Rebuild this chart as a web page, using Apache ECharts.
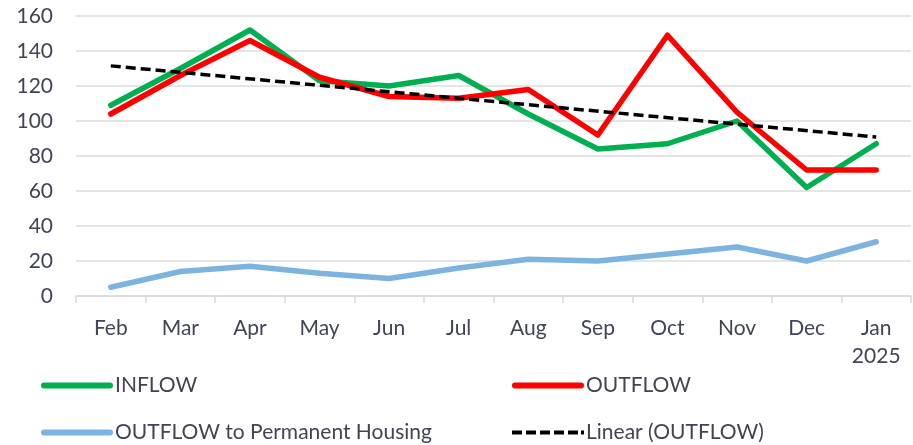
<!DOCTYPE html>
<html><head><meta charset="utf-8">
<script src="https://cdn.jsdelivr.net/npm/echarts@6/dist/echarts.min.js"></script>
<style>html,body{margin:0;padding:0;background:#fff}#c{width:913px;height:445px}</style>
</head><body><div id="c"></div>
<script>
const categories = ['Feb','Mar','Apr','May','Jun','Jul','Aug','Sep','Oct','Nov','Dec','Jan\n2025'];
const inflow = [109,130,152,123,120,126,104,84,87,100,62,87];
const outflow = [104,126,146,125,114,113,118,92,149,105,72,72];
const permanent = [5,14,17,13,10,16,21,20,24,28,20,31];
const linearOutflow = [131.5,null,null,null,null,null,null,null,null,null,null,90.8];
const yTicks = [0,20,40,60,80,100,120,140,160];

const font = 'Lato, "Open Sans", sans-serif';
const txt = '#414455';
const solidIcon = 'path://M3,0H69A3,3 0 0 1 69,6H3A3,3 0 0 1 3,0Z';
const dashIcon = 'path://M0,0H10V4H0Z M14,0H24V4H14Z M28,0H38V4H28Z M42,0H52V4H42Z M56,0H66V4H56Z M69,0H72V4H69Z';
const chart = echarts.init(document.getElementById('c'), null, {renderer:'canvas'});
function leg(name, icon, left, top){
  return {data:[{name:name, icon:icon}], left:left, top:top, itemWidth:72, itemHeight:6, itemGap:0,
    textStyle:{fontFamily:font, fontSize:21, color:txt, padding:[0,0,0,-3]}, selectedMode:false};
}
chart.setOption({
  animation:false,
  grid:{left:76, right:2, top:16, bottom:149, containLabel:false},
  legend:[leg('INFLOW',solidIcon,36,370), leg('OUTFLOW',solidIcon,507,370),
          leg('OUTFLOW to Permanent Housing',solidIcon,36,417), leg('Linear (OUTFLOW)',dashIcon,507,417)],
  xAxis:{type:'category', data:categories, boundaryGap:true,
    axisLine:{lineStyle:{color:'#d9d9d9', width:1.5}},
    axisTick:{show:true, length:7, lineStyle:{color:'#d9d9d9', width:1.5}},
    axisLabel:{fontFamily:font, fontSize:21, color:txt, margin:18, lineHeight:28, align:'center'}},
  yAxis:{type:'value', min:yTicks[0], max:yTicks[yTicks.length-1], interval:20,
    axisLine:{show:false}, axisTick:{show:false},
    splitLine:{lineStyle:{color:'#dcdce0', width:1.5}},
    axisLabel:{fontFamily:font, fontSize:21, color:txt, margin:23}},
  series:[
    {name:'INFLOW', type:'line', data:inflow, symbol:'none', z:3,
      lineStyle:{color:'#00B050', width:5.5, cap:'round', join:'round'}, itemStyle:{color:'#00B050'}},
    {name:'OUTFLOW', type:'line', data:outflow, symbol:'none', z:4,
      lineStyle:{color:'#FF0000', width:5.5, cap:'round', join:'round'}, itemStyle:{color:'#FF0000'}},
    {name:'OUTFLOW to Permanent Housing', type:'line', data:permanent, symbol:'none', z:2,
      lineStyle:{color:'#7DB3DF', width:5.5, cap:'round', join:'round'}, itemStyle:{color:'#7DB3DF'}},
    {name:'Linear (OUTFLOW)', type:'line', data:linearOutflow, connectNulls:true, symbol:'none', z:5,
      lineStyle:{color:'#000000', width:3.5, type:[10,5], cap:'butt'}, itemStyle:{color:'#000000'}}
  ]
});
</script></body></html>
